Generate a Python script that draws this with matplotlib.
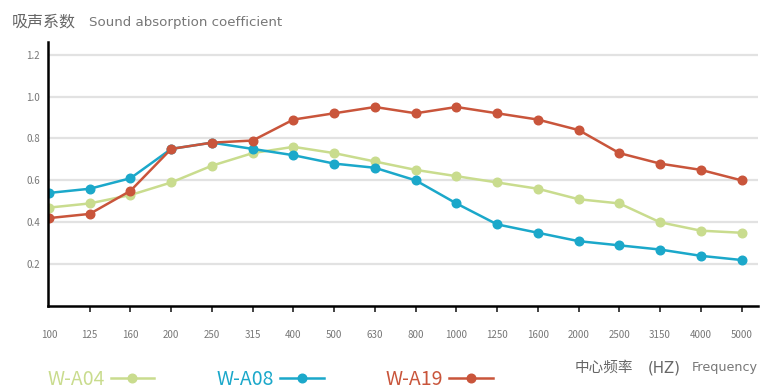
import matplotlib.pyplot as plt

plt.rcParams['font.family'] = ['Noto Sans CJK SC', 'DejaVu Sans']

freqs = ['100', '125', '160', '200', '250', '315', '400', '500', '630', '800',
         '1000', '1250', '1600', '2000', '2500', '3150', '4000', '5000']
w_a04 = [0.47, 0.49, 0.53, 0.59, 0.67, 0.73, 0.76, 0.73, 0.69, 0.65,
         0.62, 0.59, 0.56, 0.51, 0.49, 0.40, 0.36, 0.35]
w_a08 = [0.54, 0.56, 0.61, 0.75, 0.78, 0.75, 0.72, 0.68, 0.66, 0.60,
         0.49, 0.39, 0.35, 0.31, 0.29, 0.27, 0.24, 0.22]
w_a19 = [0.42, 0.44, 0.55, 0.75, 0.78, 0.79, 0.89, 0.92, 0.95, 0.92,
         0.95, 0.92, 0.89, 0.84, 0.73, 0.68, 0.65, 0.60]
yticks = [0.2, 0.4, 0.6, 0.8, 1.0, 1.2]

series = [('W-A04', w_a04, '#c9dc8e'),
          ('W-A08', w_a08, '#1ba8ca'),
          ('W-A19', w_a19, '#c9553b')]

fig = plt.figure(figsize=(7.64, 3.89), dpi=100)
ax = fig.add_axes([0.063, 0.213, 0.929, 0.679])

x = list(range(len(freqs)))
for name, vals, col in series:
    ax.plot(x, vals, '-o', color=col, lw=1.8, ms=6.2, label=name)

for y in yticks:
    ax.axhline(y, color='#e2e2e2', lw=1.6, zorder=0)

ax.set_xlim(-0.02, 17.4)
ax.set_ylim(0, 1.26)
ax.set_yticks(yticks)
ax.set_yticklabels(['%.1f' % v for v in yticks], color='#777777', fontsize=7)
ax.tick_params(axis='y', length=0, pad=6)
ax.set_xticks(x)
ax.set_xticklabels(freqs, color='#777777', fontsize=7)
ax.tick_params(axis='x', length=4, width=1.2, pad=13, colors='#222222', labelcolor='#777777')
ax.xaxis.get_major_ticks()[0].tick1line.set_visible(False)

for s in ['top', 'right']:
    ax.spines[s].set_visible(False)
ax.spines['left'].set_linewidth(1.8)
ax.spines['bottom'].set_linewidth(1.8)

fig.text(0.016, 0.943, '吸声系数', fontsize=11.5, color='#666666', va='center')
fig.text(0.117, 0.943, 'Sound absorption coefficient', fontsize=9.6, color='#777777',
         va='center', family='DejaVu Sans')

leg = fig.legend(loc='center left', bbox_to_anchor=(0.062, 0.024), ncol=3, frameon=False,
                 markerfirst=False, fontsize=14, handlelength=2.25, columnspacing=3.2,
                 handletextpad=0.3, borderaxespad=0, borderpad=0)
for txt, (_, _, col) in zip(leg.get_texts(), series):
    txt.set_color(col)

fig.text(0.752, 0.055, '中心频率', fontsize=10.5, color='#666666', va='center')
fig.text(0.848, 0.055, '(HZ)', fontsize=10.8, color='#666666', va='center',
         family='DejaVu Sans')
fig.text(0.906, 0.055, 'Frequency', fontsize=9.2, color='#777777', va='center',
         family='DejaVu Sans')

fig.savefig('out.png', dpi=100)
